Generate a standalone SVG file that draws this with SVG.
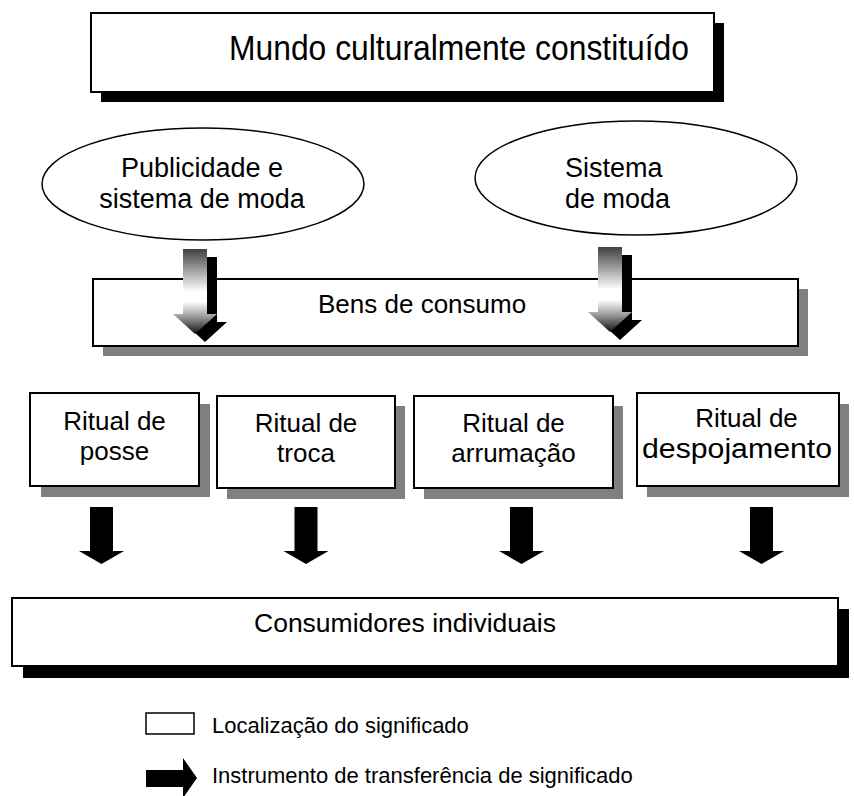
<svg xmlns="http://www.w3.org/2000/svg" width="854" height="796" viewBox="0 0 854 796">
<defs>
<style>
text{font-family:"Liberation Sans",Arial,sans-serif;fill:#000}
.box{fill:#fff;stroke:#000;stroke-width:2}
.sh-black{fill:#000}
.sh-gray{fill:#808080}
.t26{font-size:26px}
.t27{font-size:27px}
.leg{font-size:22px}
.ell{fill:#fff;stroke:#000;stroke-width:1.5}
</style>
<linearGradient id="g1" gradientUnits="userSpaceOnUse" x1="0" y1="249" x2="0" y2="334">
<stop offset="0" stop-color="#404040"/>
<stop offset="0.5" stop-color="#ffffff"/>
<stop offset="0.62" stop-color="#ffffff"/>
<stop offset="0.8" stop-color="#999999"/>
<stop offset="1" stop-color="#111111"/>
</linearGradient>
<linearGradient id="g2" gradientUnits="userSpaceOnUse" x1="0" y1="247" x2="0" y2="332">
<stop offset="0" stop-color="#404040"/>
<stop offset="0.5" stop-color="#ffffff"/>
<stop offset="0.62" stop-color="#ffffff"/>
<stop offset="0.8" stop-color="#999999"/>
<stop offset="1" stop-color="#111111"/>
</linearGradient>
<path id="downArrow" d="M-11.5,0 H11.5 V44 H22.5 L0,57 L-22.5,44 H-11.5 Z"/>
</defs>
<rect width="854" height="796" fill="#fff"/>

<g id="mundo">
<rect class="sh-black" x="101" y="23" width="623" height="79"/>
<rect class="box" x="91" y="13" width="623" height="79"/>
<text x="229" y="60" font-size="35" textLength="460" lengthAdjust="spacingAndGlyphs">Mundo culturalmente constituído</text>
</g>

<g id="publicidade">
<ellipse class="ell" cx="203" cy="184" rx="161" ry="56"/>
<text class="t27" x="202" y="177" text-anchor="middle">Publicidade e</text>
<text class="t27" x="202" y="208" text-anchor="middle">sistema de moda</text>
</g>

<g id="sistema">
<ellipse class="ell" cx="636" cy="178" rx="161" ry="57"/>
<text class="t27" x="565" y="177">Sistema</text>
<text class="t27" x="565" y="208">de moda</text>
</g>

<g id="bens">
<rect class="sh-gray" x="103" y="289" width="705" height="67"/>
<rect class="box" x="93" y="279" width="705" height="67"/>
<text class="t26" x="318" y="313">Bens de consumo</text>
</g>

<g id="posse">
<rect class="sh-gray" x="41" y="404" width="169" height="93"/>
<rect class="box" x="30" y="393" width="169" height="93"/>
<text class="t26" x="114.5" y="430" text-anchor="middle">Ritual de</text>
<text class="t26" x="114.5" y="460" text-anchor="middle">posse</text>
</g>

<g id="troca">
<rect class="sh-gray" x="227" y="406" width="178" height="93"/>
<rect class="box" x="217" y="396" width="178" height="92"/>
<text class="t26" x="306" y="432" text-anchor="middle">Ritual de</text>
<text class="t26" x="306" y="462" text-anchor="middle">troca</text>
</g>

<g id="arrumacao">
<rect class="sh-gray" x="424" y="406" width="199" height="93"/>
<rect class="box" x="414" y="396" width="199" height="92"/>
<text class="t26" x="513.5" y="432" text-anchor="middle">Ritual de</text>
<text class="t26" x="513.5" y="462" text-anchor="middle">arrumação</text>
</g>

<g id="despojamento">
<rect class="sh-gray" x="647" y="404" width="202" height="93"/>
<rect class="box" x="637" y="393" width="202" height="93"/>
<text class="t26" x="746.5" y="427" text-anchor="middle">Ritual de</text>
<text x="642" y="458" font-size="27" textLength="190" lengthAdjust="spacingAndGlyphs">despojamento</text>
</g>

<g id="consumidores">
<rect class="sh-black" x="23" y="609" width="826" height="69"/>
<rect class="box" x="12" y="598" width="826" height="68"/>
<text x="254" y="632" font-size="26.5">Consumidores individuais</text>
</g>

<g id="connectors">
<path fill="#000" d="M193,257 H217 V322 H227 L205,342 L183,322 H193 Z"/>
<path fill="url(#g1)" d="M183,249 H207 V314 H217 L195,334 L173,314 H183 Z"/>
<path fill="#000" d="M608,255 H632 V320 H642 L620,340 L598,320 H608 Z"/>
<path fill="url(#g2)" d="M598,247 H622 V312 H632 L610,332 L588,312 H598 Z"/>
<use href="#downArrow" x="101.5" y="507"/>
<use href="#downArrow" x="306" y="507"/>
<use href="#downArrow" x="521.5" y="507"/>
<use href="#downArrow" x="761.5" y="507"/>
</g>

<g id="legend">
<rect x="146" y="713" width="48" height="21" fill="#fff" stroke="#000" stroke-width="1.5"/>
<text class="leg" x="212" y="733">Localização do significado</text>
<path fill="#000" d="M146,770 H183 V758 L197,778 L183,798 V787 H146 Z"/>
<text class="leg" x="212" y="783">Instrumento de transferência de significado</text>
</g>
</svg>
